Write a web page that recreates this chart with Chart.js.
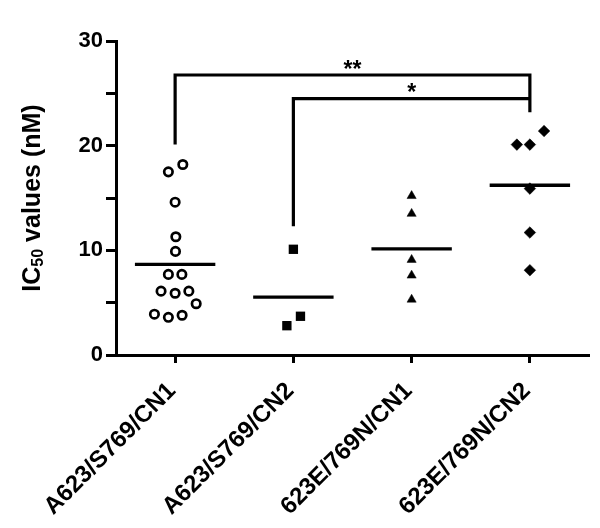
<!DOCTYPE html>
<html><head><meta charset="utf-8">
<script src="https://cdn.jsdelivr.net/npm/chart.js@4"></script>
<style>html,body{margin:0;padding:0;background:#fff}</style>
</head><body>
<canvas id="c" width="600" height="528"></canvas>
<script>
// ---- data ----
const categories = ['A623/S769/CN1', 'A623/S769/CN2', '623E/769N/CN1', '623E/769N/CN2'];
const yTickValues = [0, 5, 10, 15, 20, 25, 30];
const yTickLabels = ['0', '', '10', '', '20', '', '30'];

// IC50 values (nM) per group, with horizontal spread (in category units) of the dot plot
const wtCn1Values = [18.2, 17.5, 14.6, 11.3, 9.9, 7.7, 7.7, 6.1, 5.9, 6.1, 4.9, 3.9, 3.6, 3.8];
const wtCn1Spread = [0.065, -0.057, 0, 0.006, 0.003, -0.057, 0.057, -0.119, 0, 0.116, 0.178, -0.175, -0.057, 0.059];
const wtCn2Values = [10.1, 3.7, 2.8];
const wtCn2Spread = [0, 0.06, -0.055];
const mutCn1Values = [15.2, 13.5, 9.1, 7.6, 5.3];
const mutCn1Spread = [0, 0, 0, 0, 0];
const mutCn2Values = [21.4, 20.1, 20.1, 15.9, 11.7, 8.1];
const mutCn2Spread = [0.12, -0.11, 0, 0, 0, 0];

// significance brackets
const sigFrom = [1, 2];
const sigTo = [4, 4];
const sigLevel = [26.75, 24.5];
const sigLeftEnd = [20.1, 12.3];
const sigRightEnd = [23.2, 24.5];
const sigText = ['**', '*'];

// ---- chart ----
const FONT = "'Liberation Sans', Arial, Helvetica, sans-serif";
const MEAN_HALF = 0.34;
const mean = a => a.reduce((s, v) => s + v, 0) / a.length;
const toPts = (vals, spread, c) => vals.map((v, i) => ({x: c + spread[i], y: v}));

const groups = [
  {vals: wtCn1Values, spread: wtCn1Spread, style: 'circle', r: 4.2, bw: 2.7, bg: '#fff'},
  {vals: wtCn2Values, spread: wtCn2Spread, style: 'rect', r: 6.6, bw: 0, bg: '#000'},
  {vals: mutCn1Values, spread: mutCn1Spread, style: 'triangle', r: 5.3, bw: 0.5, bg: '#000'},
  {vals: mutCn2Values, spread: mutCn2Spread, style: 'rectRot', r: 5.8, bw: 0.5, bg: '#000'}
];

const datasets = [];
groups.forEach((g, i) => {
  const c = i + 1;
  datasets.push({
    type: 'scatter',
    data: toPts(g.vals, g.spread, c),
    pointStyle: g.style, pointRadius: g.r, pointHoverRadius: g.r,
    pointBorderWidth: g.bw, pointBackgroundColor: g.bg, pointBorderColor: '#000'
  });
  const m = mean(g.vals);
  datasets.push({
    type: 'line', data: [{x: c - MEAN_HALF, y: m}, {x: c + MEAN_HALF, y: m}],
    borderColor: '#000', borderWidth: 3.3, pointRadius: 0, fill: false, borderCapStyle: 'butt'
  });
});
sigFrom.forEach((f, i) => {
  datasets.push({
    type: 'line',
    data: [{x: f, y: sigLeftEnd[i]}, {x: f, y: sigLevel[i]}, {x: sigTo[i], y: sigLevel[i]}, {x: sigTo[i], y: sigRightEnd[i]}],
    borderColor: '#000', borderWidth: 3.2, pointRadius: 0, fill: false,
    borderCapStyle: 'butt', borderJoinStyle: 'miter', tension: 0
  });
});

const extras = {
  id: 'extras',
  afterDraw(chart) {
    const ctx = chart.ctx, xs = chart.scales.x, ys = chart.scales.y;
    ctx.save();
    ctx.fillStyle = '#000';
    // significance labels
    ctx.font = 'bold 23px ' + FONT;
    ctx.textAlign = 'center';
    ctx.textBaseline = 'alphabetic';
    sigText.forEach((t, i) => {
      const x = (xs.getPixelForValue(sigFrom[i]) + xs.getPixelForValue(sigTo[i])) / 2;
      ctx.fillText(t, x, ys.getPixelForValue(sigLevel[i]) + 1.5);
    });
    // y-axis title with subscript
    const main = 'bold 25px ' + FONT, sub = 'bold 16px ' + FONT;
    const p1 = 'IC', p2 = '50', p3 = ' values (nM)';
    ctx.font = main; const w1 = ctx.measureText(p1).width, w3 = ctx.measureText(p3).width;
    ctx.font = sub; const w2 = ctx.measureText(p2).width;
    const total = w1 + w2 + w3;
    const cy = (ys.top + ys.bottom) / 2;
    ctx.translate(33, cy);
    ctx.rotate(-Math.PI / 2);
    ctx.textAlign = 'left';
    ctx.textBaseline = 'middle';
    let x0 = -total / 2;
    ctx.font = main; ctx.fillText(p1, x0, 0); x0 += w1;
    ctx.font = sub; ctx.fillText(p2, x0, 6); x0 += w2;
    ctx.font = main; ctx.fillText(p3, x0, 0);
    ctx.restore();
  }
};

new Chart(document.getElementById('c'), {
  type: 'scatter',
  data: {datasets},
  plugins: [extras],
  options: {
    responsive: false, devicePixelRatio: 1, animation: false,
    layout: {padding: {left: 0, right: 11, top: 41, bottom: 0}},
    plugins: {legend: {display: false}, tooltip: {enabled: false}},
    scales: {
      x: {
        type: 'linear', min: 0.5, max: 4.5,
        afterBuildTicks: s => { s.ticks = categories.map((_, i) => ({value: i + 1})); },
        afterFit: s => { s.height = 173; },
        border: {display: true, color: '#000', width: 3},
        grid: {display: true, drawOnChartArea: false, drawTicks: true, tickLength: 8, tickColor: '#000', tickWidth: 3},
        ticks: {
          autoSkip: false, maxRotation: 45, minRotation: 45, padding: 14, labelOffset: -3, color: '#000',
          font: {family: FONT, size: 24, weight: 'bold'},
          callback: v => categories[Math.round(v) - 1]
        }
      },
      y: {
        type: 'linear', min: 0, max: 30,
        afterBuildTicks: s => { s.ticks = yTickValues.map(v => ({value: v})); },
        afterFit: s => { s.width = 116; },
        border: {display: true, color: '#000', width: 3},
        grid: {display: true, drawOnChartArea: false, drawTicks: true, tickLength: 10, tickColor: '#000', tickWidth: 3},
        ticks: {
          padding: 3, color: '#000',
          font: {family: FONT, size: 22, weight: 'bold'},
          callback: v => yTickLabels[yTickValues.indexOf(v)]
        }
      }
    }
  }
});
</script>
</body></html>
